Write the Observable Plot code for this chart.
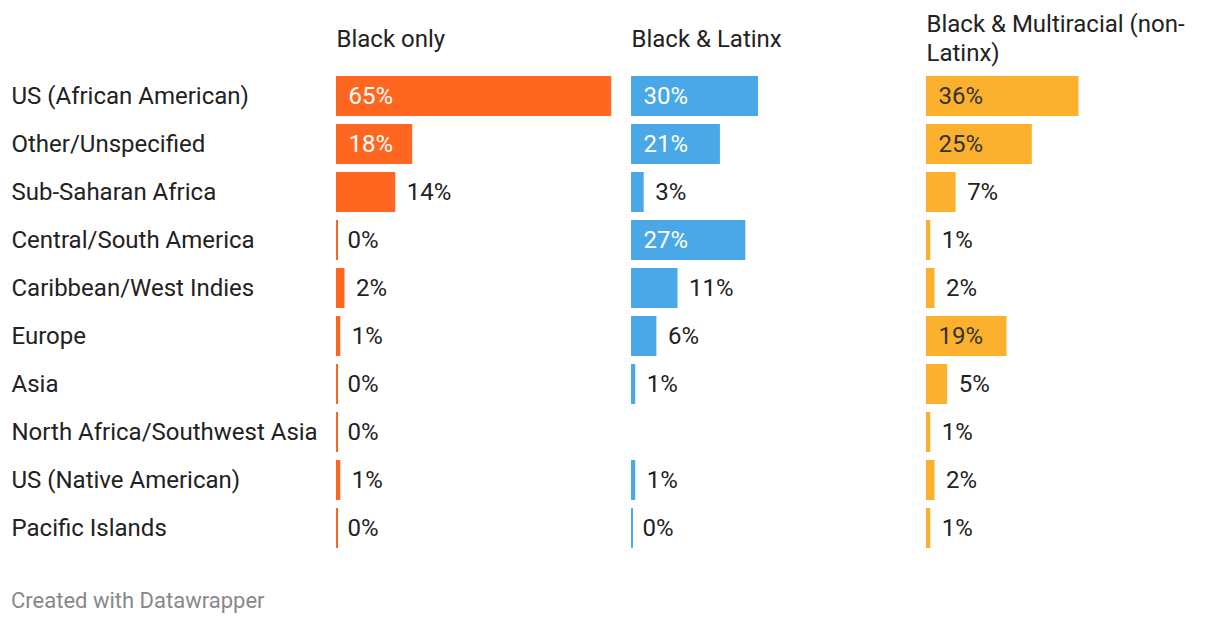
<!DOCTYPE html>
<html>
<head>
<meta charset="utf-8">
<script src="https://cdn.jsdelivr.net/npm/d3@7"></script>
<script src="https://cdn.jsdelivr.net/npm/@observablehq/plot@0.6"></script>
<style>
  html, body { margin: 0; padding: 0; background: #fff; }
  body { width: 1220px; height: 624px; overflow: hidden; font-family: Roboto, "Noto Sans", sans-serif; }
  #caption { margin: 28px 0 0 11px; font-size: 22px; line-height: 26px; color: #888; }
</style>
</head>
<body>
<div id="chart"></div>
<div id="caption">Created with Datawrapper</div>
<script>
const regions = [
  "US (African American)",
  "Other/Unspecified",
  "Sub-Saharan Africa",
  "Central/South America",
  "Caribbean/West Indies",
  "Europe",
  "Asia",
  "North Africa/Southwest Asia",
  "US (Native American)",
  "Pacific Islands"
];
const groups = ["Black only", "Black & Latinx", "Black & Multiracial (non-Latinx)"];
const blackOnly = [65, 18, 14, 0, 2, 1, 0, 0, 1, 0];
const blackLatinx = [30, 21, 3, 27, 11, 6, 1, null, 1, 0];
const blackMultiracial = [36, 25, 7, 1, 2, 19, 5, 1, 2, 1];

const seriesColors = ["#ff6720", "#4aa8e6", "#fbb12e"];
const insideTextColors = ["#ffffff", "#ffffff", "#333333"];
const seriesValues = [blackOnly, blackLatinx, blackMultiracial];

const rows = [];
groups.forEach((g, gi) => {
  regions.forEach((r, ri) => {
    const v = seriesValues[gi][ri];
    if (v != null) rows.push({group: g, region: r, value: v, gi});
  });
});
const inside = rows.filter(d => d.value >= 15);
const outside = rows.filter(d => d.value < 15);

const chart = Plot.plot({
  width: 1220,
  height: 560,
  marginLeft: 335,
  marginRight: 17,
  marginTop: 76,
  marginBottom: 12,
  style: {fontFamily: "Roboto, 'Noto Sans', sans-serif", fontSize: "24px", color: "#222", background: "#fff"},
  fx: {domain: groups, paddingInner: 0.0644, paddingOuter: 0, axis: null, label: null},
  x: {domain: [0, 65.2], axis: null},
  y: {domain: regions, paddingInner: 8 / 48, paddingOuter: 0, axis: null},
  color: {type: "identity"},
  marks: [
    Plot.axisY({tickSize: 0, tickPadding: 325, textAnchor: "start", fontSize: 24, fill: "#222", label: null}),
    Plot.barX(rows, {fx: "group", y: "region", x1: 0, x2: 0, insetRight: -2, fill: d => seriesColors[d.gi]}),
    Plot.barX(rows, {fx: "group", y: "region", x: "value", fill: d => seriesColors[d.gi]}),
    Plot.text(inside, {fx: "group", y: "region", x: 0, dx: 12, text: d => d.value + "%", textAnchor: "start",
      fill: d => insideTextColors[d.gi], fontSize: 24}),
    Plot.text(outside, {fx: "group", y: "region", x: "value", dx: 11, text: d => d.value + "%", textAnchor: "start",
      fill: "#222", fontSize: 24}),
    Plot.text(groups, {fx: d => d, text: d => d, frameAnchor: "top-left", textAnchor: "start", lineAnchor: "middle",
      dy: -39, lineWidth: 12.8, lineHeight: 1.17, fontSize: 24, fill: "#222"})
  ]
});
document.getElementById("chart").appendChild(chart);
</script>
</body>
</html>
